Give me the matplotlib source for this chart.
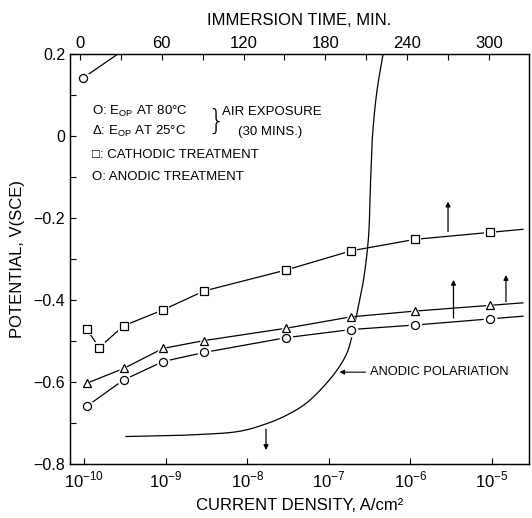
import numpy as np
import matplotlib
matplotlib.use("Agg")
import matplotlib.pyplot as plt

plt.rcParams['font.family'] = ['Liberation Sans', 'DejaVu Sans']
plt.rcParams['mathtext.fontset'] = 'custom'
plt.rcParams['mathtext.rm'] = 'Liberation Sans'

# ---- data (immersion time in min, potential in V(SCE)) ----
cath_t = [5, 14, 32, 61, 91, 151, 199, 246, 301]
cath_v = [-0.471, -0.516, -0.463, -0.424, -0.378, -0.327, -0.280, -0.252, -0.235]

e25_t = [5, 32, 61, 91, 151, 199, 246, 301]
e25_v = [-0.603, -0.567, -0.518, -0.499, -0.469, -0.441, -0.427, -0.413]

e80_t = [5, 32, 61, 91, 151, 199, 246, 301]
e80_v = [-0.659, -0.595, -0.550, -0.528, -0.492, -0.472, -0.461, -0.446]

anodic_t = [2, 30]
anodic_v = [0.141, 0.205]

# anodic polarization curve (log10 current density, potential)
pol_logi = [-9.485, -8.578, -8.088, -7.782, -7.537, -7.292, -7.083, -6.900, -6.777,
            -6.716, -6.667, -6.618, -6.575, -6.515, -6.490, -6.465, -6.409,
            -6.336, -6.30]
pol_v = [-0.733, -0.728, -0.720, -0.703, -0.683, -0.654, -0.615, -0.571, -0.529,
         -0.488, -0.444, -0.395, -0.351, -0.250, -0.120, 0.000, 0.112,
         0.198, 0.24]

t_ticks = [0, 60, 120, 180, 240, 300]
y_ticks = [0.2, 0, -0.2, -0.4, -0.6, -0.8]
y_labels = ['0.2', '0', '\u22120.2', '\u22120.4', '\u22120.6', '\u22120.8']
dec_ticks = [-10, -9, -8, -7, -6, -5]


def catmull_rom(x, y, sx, sy, n=20):
    """Centripetal Catmull-Rom smoothing through the given points."""
    P = np.column_stack([np.asarray(x) / sx, np.asarray(y) / sy])
    P = np.vstack([2 * P[0] - P[1], P, 2 * P[-1] - P[-2]])
    out = []
    for i in range(1, len(P) - 2):
        p0, p1, p2, p3 = P[i - 1], P[i], P[i + 1], P[i + 2]
        t0 = 0.0
        t1 = t0 + np.linalg.norm(p1 - p0) ** 0.5
        t2 = t1 + np.linalg.norm(p2 - p1) ** 0.5
        t3 = t2 + np.linalg.norm(p3 - p2) ** 0.5
        tt = np.linspace(t1, t2, n)[:, None]
        A1 = (t1 - tt) / (t1 - t0) * p0 + (tt - t0) / (t1 - t0) * p1
        A2 = (t2 - tt) / (t2 - t1) * p1 + (tt - t1) / (t2 - t1) * p2
        A3 = (t3 - tt) / (t3 - t2) * p2 + (tt - t2) / (t3 - t2) * p3
        B1 = (t2 - tt) / (t2 - t0) * A1 + (tt - t0) / (t2 - t0) * A2
        B2 = (t3 - tt) / (t3 - t1) * A2 + (tt - t1) / (t3 - t1) * A3
        C = (t2 - tt) / (t2 - t1) * B1 + (tt - t1) / (t2 - t1) * B2
        out.append(C)
    C = np.vstack(out)
    return C[:, 0] * sx, C[:, 1] * sy


fig = plt.figure(figsize=(5.32, 5.18), dpi=100)
ax = fig.add_axes([70/532, 54/518, 459/532, 410/518])
ax.set_xscale('log')
ax.set_xlim(10**-10.172, 10**-4.547)
ax.set_ylim(-0.8, 0.2)

ax2 = ax.twiny()
ax2.set_xlim(-7.34, 329.4)
ax2.set_ylim(-0.8, 0.2)

# polarization curve on bottom axis (smoothed through read points)
sx, sy = catmull_rom(pol_logi, pol_v, 5.625 / 459, 1.0 / 410)
ax.plot(10**sx, sy, color='black', lw=0.9, clip_on=True)


def series(t, v, marker, ms, extend=True):
    t = list(t); v = list(v)
    lt, lv = t[:], v[:]
    if extend:
        slope = (v[-1] - v[-2]) / (t[-1] - t[-2])
        lt.append(325.0)
        lv.append(v[-1] + slope * (325.0 - t[-1]))
    ax2.plot(lt, lv, color='black', lw=0.9, zorder=2)
    ax2.plot(t, v, ls='none', marker=marker, ms=ms + 4, mfc='white', mec='white',
             mew=0, zorder=3)
    ax2.plot(t, v, ls='none', marker=marker, ms=ms, mfc='white', mec='black',
             mew=0.9, zorder=4)


series(cath_t, cath_v, 's', 5.2)
series(e25_t, e25_v, '^', 5.5)
series(e80_t, e80_v, 'o', 5.8)

ax2.plot(anodic_t, anodic_v, color='black', lw=0.9, zorder=2)
ax2.plot(anodic_t[:1], anodic_v[:1], ls='none', marker='o', ms=9.8, mfc='white',
         mec='white', mew=0, zorder=3)
ax2.plot(anodic_t[:1], anodic_v[:1], ls='none', marker='o', ms=5.8, mfc='white',
         mec='black', mew=0.9, zorder=4)

# ticks
ax.set_xticks([10.0**d for d in dec_ticks])
ax.set_xticklabels([r'$10^{%d}$' % d for d in dec_ticks], fontsize=12)
ax.xaxis.set_minor_locator(matplotlib.ticker.NullLocator())
ax.set_yticks(y_ticks)
ax.set_yticklabels(y_labels, fontsize=11.5)
ax.set_yticks(np.arange(-0.8, 0.21, 0.1), minor=True)
ax.tick_params(axis='both', which='both', direction='in', length=4, width=0.8)
ax.tick_params(axis='y', which='both', right=False)
ax.tick_params(axis='x', pad=4)

ax2.set_xticks(t_ticks)
ax2.set_xticklabels([str(t) for t in t_ticks], fontsize=12)
ax2.set_xticks(np.arange(0, 330, 30), minor=True)
ax2.tick_params(axis='x', which='both', direction='in', length=4, width=0.8, pad=2)

for a in (ax, ax2):
    for s in a.spines.values():
        s.set_linewidth(0.9)

ax.set_xlabel('CURRENT DENSITY, A/cm\u00b2', fontsize=12, labelpad=6)
ax2.set_xlabel('IMMERSION TIME, MIN.', fontsize=12, labelpad=8)
ax.set_ylabel('POTENTIAL, V(SCE)', fontsize=12, labelpad=6)

# legend-like annotations (axes fraction)
fs = 9.5
ax.text(0.048, 0.859, 'O: E$_{\\mathrm{OP}}$ AT 80\u00b0C', transform=ax.transAxes,
        fontsize=fs, va='center')
ax.text(0.048, 0.810, '\u0394: E$_{\\mathrm{OP}}$ AT 25\u00b0C', transform=ax.transAxes,
        fontsize=fs, va='center')
ax.text(0.048, 0.754, '\u25a1: CATHODIC TREATMENT', transform=ax.transAxes,
        fontsize=fs, va='center')
ax.text(0.048, 0.700, 'O: ANODIC TREATMENT', transform=ax.transAxes,
        fontsize=fs, va='center')
ax.text(0.300, 0.834, '}', transform=ax.transAxes, fontsize=20, va='center',
        family='DejaVu Sans', fontweight='light')
ax.text(0.332, 0.859, 'AIR EXPOSURE', transform=ax.transAxes, fontsize=fs, va='center')
ax.text(0.365, 0.810, '(30 MINS.)', transform=ax.transAxes, fontsize=fs, va='center')

# anodic polarization label + arrow
ax.text(10**-6.5, -0.576, 'ANODIC POLARIATION', fontsize=9.3, va='center', ha='left')
ax.annotate('', xy=(10**-6.87, -0.576), xytext=(10**-6.55, -0.576),
            arrowprops=dict(arrowstyle='-|>', lw=0.8, color='black', mutation_scale=7,
                            shrinkA=0, shrinkB=0))

# arrows
arw = dict(arrowstyle='-|>', lw=0.9, color='black', mutation_scale=7, shrinkA=0, shrinkB=0)
ax2.annotate('', xy=(270, -0.160), xytext=(270, -0.233), arrowprops=arw)
ax2.annotate('', xy=(274, -0.351), xytext=(274, -0.444), arrowprops=arw)
ax2.annotate('', xy=(312.5, -0.339), xytext=(312.5, -0.404), arrowprops=arw)
ax.annotate('', xy=(10**-7.77, -0.766), xytext=(10**-7.77, -0.715), arrowprops=arw)

fig.savefig('out.png', dpi=100)
